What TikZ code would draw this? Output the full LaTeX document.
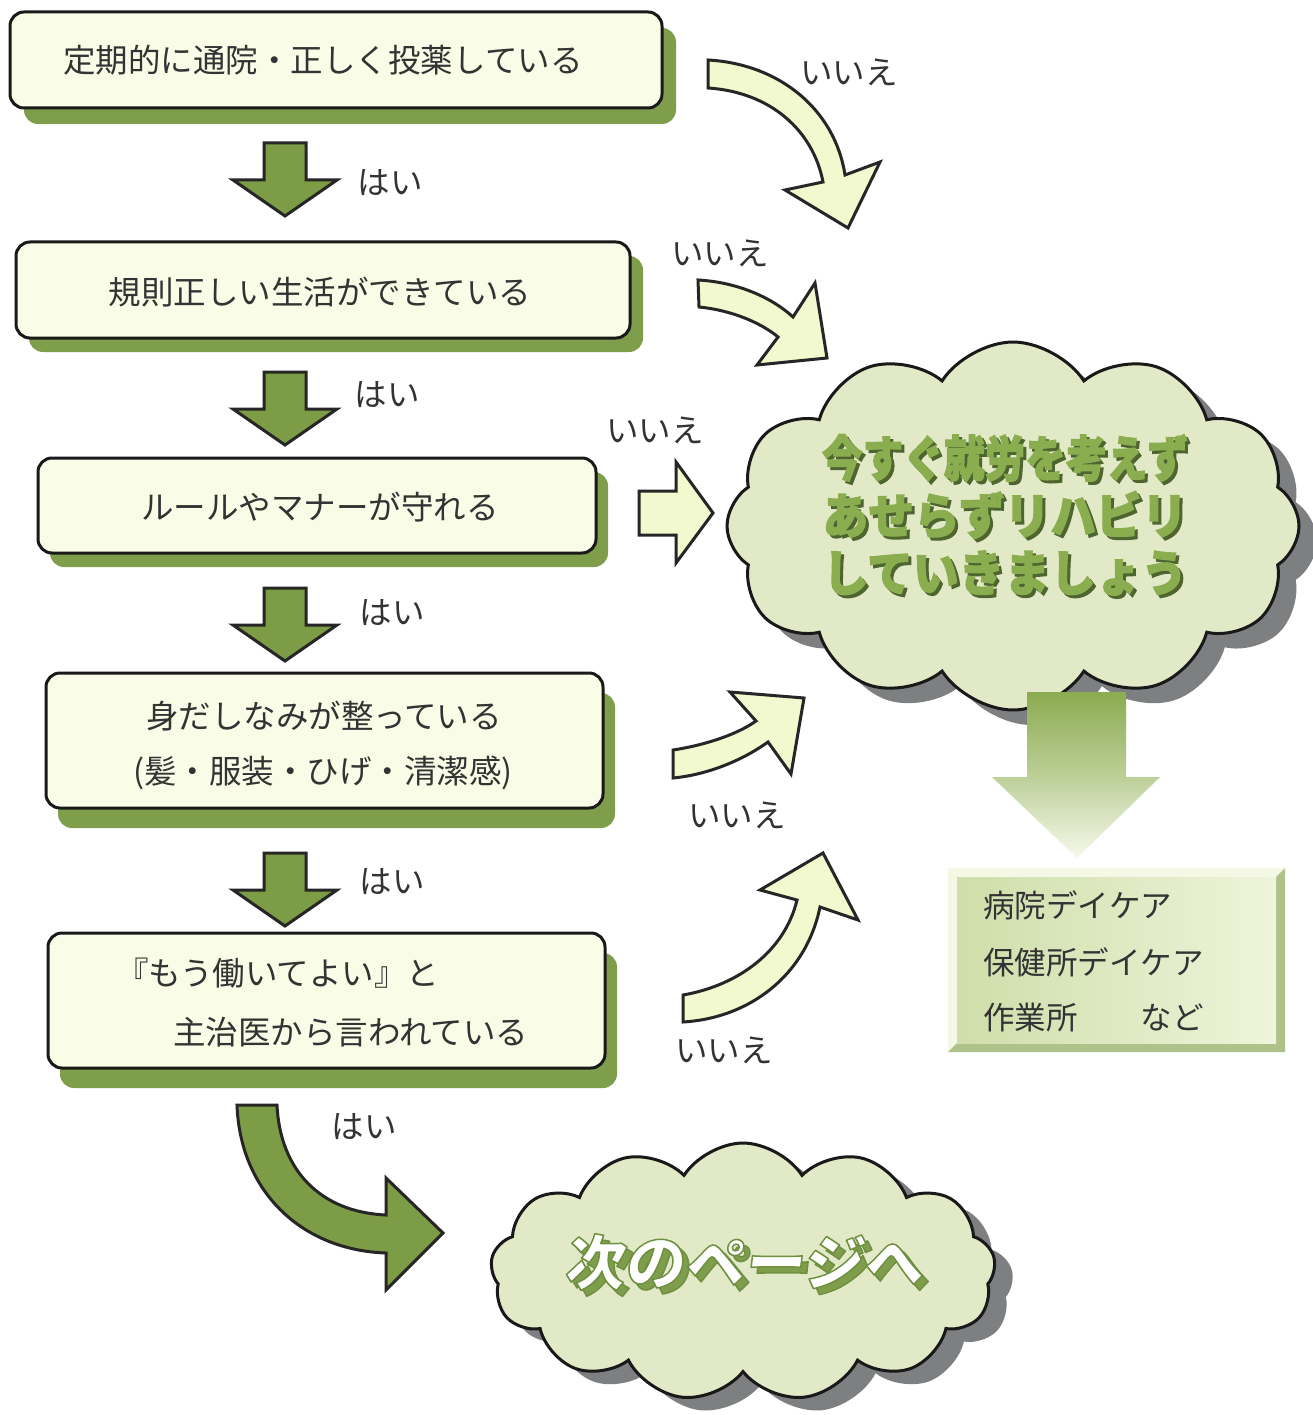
\documentclass[tikz,border=0pt]{standalone}
\usepackage{fontspec}
\newfontfamily\jp{Noto Sans CJK JP}
\newfontfamily\jph[FakeBold=2.5]{Noto Sans CJK JP}
\usetikzlibrary{shapes.symbols,shadows}
\definecolor{boxfill}{HTML}{F9FCE6}
\definecolor{shgreen}{HTML}{7E9E4C}
\definecolor{dngreen}{HTML}{7C9C45}
\definecolor{yelfill}{HTML}{F2F9CF}
\definecolor{cloudfill}{HTML}{E1E9C7}
\definecolor{cloudshadow}{HTML}{7D7F80}
\definecolor{cloudtext}{HTML}{8AAE4F}
\definecolor{cloudtextsh}{HTML}{4F6530}
\definecolor{txt}{HTML}{333333}
\definecolor{bevlight}{HTML}{F4F8E4}
\definecolor{bevdark}{HTML}{AFC28A}
\definecolor{innerL}{HTML}{CFDEAA}
\definecolor{innerR}{HTML}{EEF4DA}
\definecolor{grtop}{HTML}{8BAC50}
\definecolor{grbot}{HTML}{F6F9EC}
\definecolor{nxtout}{HTML}{6F9040}
\tikzset{
  qbox/.style={draw=black!90, line width=3pt, rounded corners=14pt, fill=boxfill, inner sep=0pt},
  qtext/.style={font={\jp\fontsize{32.5pt}{34pt}\selectfont}, text=txt, inner sep=0pt},
  lbl/.style={font={\jp\fontsize{32.5pt}{34pt}\selectfont}, text=txt, inner sep=0pt},
  yarrow/.style={fill=yelfill, draw=black!85, line width=3pt, line join=miter},
  garrow/.style={fill=dngreen, draw=black!85, line width=3pt, line join=miter},
  bigcloud/.style={cloud, cloud ignores aspect, draw=black!90, line width=3pt, fill=cloudfill, inner sep=0pt},
  ctext/.style={font={\jph\bfseries\fontsize{49pt}{51pt}\selectfont}, inner sep=0pt},
  nxt/.style={font={\jph\bfseries\fontsize{60pt}{62pt}\selectfont}, inner sep=0pt, xslant=0.12},
  rtext/.style={font={\jp\fontsize{31.5pt}{33pt}\selectfont}, text=txt, inner sep=0pt, anchor=west},
  dnarrow/.pic={\filldraw[garrow] (-21,0)--(21,0)--(21,37)--(52,37)--(0,73)--(-52,37)--(-21,37)--cycle;}
}
\newcommand\strokeon{\special{pdf:literal direct 2 Tr 3.2 w 1 j 0.435 0.565 0.251 RG}}
\newcommand\strokeoff{\special{pdf:literal direct 0 Tr}}
\begin{document}
\begin{tikzpicture}[x=1pt,y=-1pt]
\useasboundingbox (0,0) rectangle (1313,1415);
\fill[white] (0,0) rectangle (1313,1415);

% question boxes
\node[qbox, minimum width=652pt, minimum height=96pt, drop shadow={shadow xshift=14pt, shadow yshift=-16pt, fill=shgreen, opacity=1}] (b1) at (336,60) {};
\node[qtext] (t1) at (323,60) {定期的に通院・正しく投薬している};

\node[qbox, minimum width=614pt, minimum height=96pt, drop shadow={shadow xshift=13pt, shadow yshift=-14pt, fill=shgreen, opacity=1}] (b2) at (323,290) {};
\node[qtext] (t2) at (320,292) {規則正しい生活ができている};

\node[qbox, minimum width=558pt, minimum height=95pt, drop shadow={shadow xshift=12pt, shadow yshift=-14pt, fill=shgreen, opacity=1}] (b3) at (317,505.5) {};
\node[qtext] (t3) at (320,507) {ルールやマナーが守れる};

\node[qbox, minimum width=557pt, minimum height=135pt, drop shadow={shadow xshift=12pt, shadow yshift=-20pt, fill=shgreen, opacity=1}] (b4) at (324.5,740.5) {};
\node[qtext] (t4a) at (324,716) {身だしなみが整っている};
\node[qtext] (t4b) at (323,773) {(髪・服装・ひげ・清潔感)};

\node[qbox, minimum width=557pt, minimum height=135pt, drop shadow={shadow xshift=12pt, shadow yshift=-20pt, fill=shgreen, opacity=1}] (b5) at (326.5,1000.5) {};
\node[qtext, anchor=west] (t5a) at (116,973) {『もう働いてよい』と};
\node[qtext, anchor=west] (t5b) at (173,1032) {主治医から言われている};

% down arrows (yes)
\pic at (285,143) {dnarrow};
\pic at (285,372) {dnarrow};
\pic at (285,588) {dnarrow};
\pic at (285,853) {dnarrow};
\node[lbl] (h1) at (390,183) {はい};
\node[lbl] (h2) at (387,395) {はい};
\node[lbl] (h3) at (392,613) {はい};
\node[lbl] (h4) at (392,882) {はい};
\node[lbl] (h5) at (364,1127) {はい};

% clouds
\node[bigcloud, cloud puffs=12, cloud puff arc=115, minimum width=572pt, minimum height=368pt,
  drop shadow={shadow xshift=18pt, shadow yshift=-15pt, fill=cloudshadow, opacity=1}] (c1) at (1013,526) {};
\node[bigcloud, cloud puffs=13, cloud puff arc=115, minimum width=505pt, minimum height=258pt,
  drop shadow={shadow xshift=18pt, shadow yshift=-13pt, fill=cloudshadow, opacity=1}] (c2) at (743,1272) {};

% cloud 1 text
\foreach \yy/\tt/\sx [count=\i] in {458/今すぐ就労を考えず/0.83, 515/あせらずリハビリ/0.933, 573/していきましょう/0.933}{
  \node[ctext, text=cloudtextsh, xscale=\sx] at (1008,\yy+3) {\tt};
  \node[ctext, text=cloudtext, xscale=\sx] (ct\i) at (1005,\yy) {\tt};
}

% cloud 2 text
\node[nxt, text=shgreen] at (752,1268) {\strokeon 次のページへ\strokeoff};
\node[nxt, text=white] (nx) at (746,1262) {\strokeon 次のページへ\strokeoff};

% gradient arrow from cloud to box
\shade[top color=grtop, bottom color=grbot, middle color=grtop!55!grbot]
  (1027,692)--(1126,692)--(1126,777)--(1160,777)--(1077,858)--(992,777)--(1027,777)--cycle;

% bevelled right box
\fill[bevlight] (948,868) rectangle (1285,1052);
\fill[bevdark] (1285,868)--(1285,1052)--(948,1052)--(957,1043)--(1276,1043)--(1276,877)--cycle;
\shade[left color=innerL, right color=innerR] (957,877) rectangle (1276,1043);
\node[inner sep=0pt, minimum width=337pt, minimum height=184pt] (rb) at (1116.5,960) {};
\node[rtext] (r1) at (983,905) {病院デイケア};
\node[rtext] (r2) at (983,962) {保健所デイケア};
\node[rtext] (r3) at (983,1018) {作業所　　など};

% no arrows
\filldraw[yarrow] (708,60) .. controls (780,64) and (835,110) .. (845,175) -- (880,162) -- (848,228) -- (785,190) -- (823,182) .. controls (813,130) and (770,92) .. (708,88) -- cycle;
\filldraw[yarrow] (698,280) .. controls (735,282) and (770,296) .. (793,317) -- (815,283) -- (827,358) -- (757,365) -- (778,337) .. controls (760,322) and (730,310) .. (699,307) -- cycle;
\filldraw[yarrow] (639,491)--(676,491)--(676,462)--(713,513)--(676,563)--(676,535)--(639,535)--cycle;
\filldraw[yarrow] (673,750) .. controls (700,746) and (735,736) .. (756,721) -- (730,692) -- (804,698) -- (791,774) -- (768,742) .. controls (740,762) and (705,775) .. (673,778) -- cycle;
\filldraw[yarrow] (683,995) .. controls (740,985) and (785,950) .. (797,900) -- (760,890) -- (823,853) -- (858,920) -- (820,907) .. controls (806,975) and (750,1018) .. (683,1022) -- cycle;
\node[lbl] (n1) at (849,72) {いいえ};
\node[lbl] (n2) at (720,253) {いいえ};
\node[lbl] (n3) at (655,430) {いいえ};
\node[lbl] (n4) at (737,815) {いいえ};
\node[lbl] (n5) at (724,1050) {いいえ};

% yes arrow to next page
\filldraw[garrow] (237,1105) -- (277,1105) .. controls (280,1170) and (320,1212) .. (386,1215) -- (386,1178) -- (443,1233) -- (386,1290) -- (386,1253) .. controls (300,1250) and (240,1190) .. (237,1105) -- cycle;
\end{tikzpicture}
\end{document}
